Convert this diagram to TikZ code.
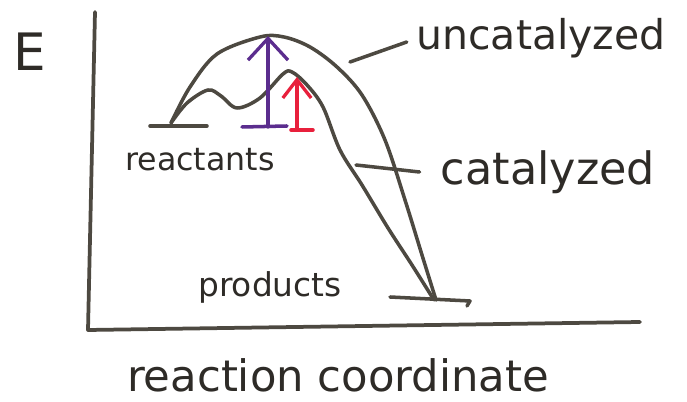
\documentclass[tikz,border=0pt]{standalone}
\usepackage{fontspec}
\setmainfont{DejaVu Sans}
\usetikzlibrary{arrows.meta,positioning}
\definecolor{inkgray}{HTML}{4D4941}
\definecolor{inktext}{HTML}{2E2B27}
\definecolor{barrierpurple}{HTML}{5B2D8E}
\definecolor{barrierred}{HTML}{E8203C}

\begin{document}
\begin{tikzpicture}[
x=0.03cm, y=-0.03cm,
ink/.style={draw=inkgray, line width=3pt, line cap=round, line join=round},
lbl/.style={text=inktext, inner sep=0pt},
bigbarrier/.style={line width=2.8pt, line cap=round, -{Straight Barb[length=6.5mm, width=12mm, line width=2.8pt]}},
smallbarrier/.style={line width=2.8pt, line cap=round, -{Straight Barb[length=5.5mm, width=8.5mm, line width=2.8pt]}},
base/.style={line width=3pt, line cap=round}
]
\fill[white] (0,0) rectangle (687,402);
\useasboundingbox (0,0) rectangle (687,402);

% axes
\coordinate (ytop) at (95,12);
\coordinate (origin) at (88,330);
\coordinate (xend) at (640,322);
\draw[ink, line width=3.2pt] (ytop) -- (origin) -- (xend);

% energy levels
\coordinate (reactL) at (150,126);
\coordinate (reactR) at (207,126);
\coordinate (prodL) at (390,297);
\coordinate (prodR) at (470,301);
\draw[ink] (reactL) -- (reactR);
\draw[ink] (prodL) -- (prodR) -- ++(-3,5);

% reaction paths
\draw[ink] plot[smooth, tension=0.55] coordinates {(171,123) (190,87) (217,54) (260,37) (284,37) (310,47) (337,67) (362,95) (385,140) (405,200) (422,255) (436,300)};
\draw[ink] plot[smooth, tension=0.55] coordinates {(171,123) (187,103) (208,90) (221,96) (237,108) (260,98) (283,74) (292,72) (307,85) (323,107) (340,150) (362,185) (388,228) (412,265) (434,300)};

% activation energies
\coordinate (upeak) at (268,36);
\coordinate (cpeak) at (297,77);
\coordinate (ubase) at (268,127);
\coordinate (cbase) at (297,129);
\draw[barrierpurple, base] (242,127) -- (287,126);
\draw[barrierpurple, bigbarrier] (ubase) -- (upeak);
\draw[barrierred, base] (291,130) -- (313,130);
\draw[barrierred, smallbarrier] (cbase) -- (cpeak);

% labels
\node[lbl, font=\fontsize{44}{44}\selectfont] (elab) at (30,52) {E};
\node[lbl, font=\fontsize{35}{35}\selectfont] (ulab) at (541,38) {uncatalyzed};
\node[lbl, font=\fontsize{38}{38}\selectfont] (clab) at (548,172) {catalyzed};
\node[lbl, font=\fontsize{27}{27}\selectfont] (rlab) at (200,160) {reactants};
\node[lbl, font=\fontsize{28}{28}\selectfont] (plab) at (270,287) {products};
\node[lbl, font=\fontsize{37}{37}\selectfont] (xlab) at (338,375) {reaction coordinate};

% pointers
\coordinate (uptr) at (350,62);
\coordinate (cptr) at (356,165);
\draw[ink] (uptr) -- ([xshift=-8pt]ulab.west |- 0,42);
\draw[ink] (cptr) -- ([xshift=-18pt]clab.west);
\end{tikzpicture}
\end{document}
